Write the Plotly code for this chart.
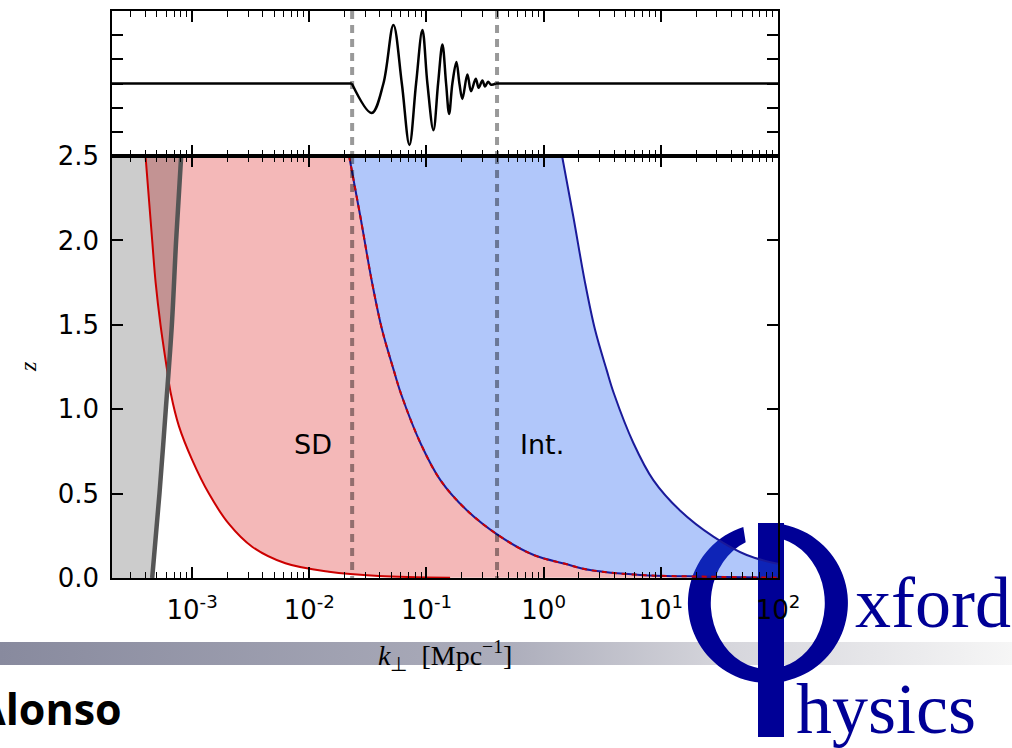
import base64
import math
import plotly.graph_objects as go

# ---------------- data ----------------
k_range = [2.07e-4, 100.0]          # k_perp axis limits [Mpc^-1]
z_range = [0.0, 2.5]
bao_k = [0.0232, 0.40]              # dashed BAO window

# single-dish (SD) lower limit curve (red)
sd_k = [4.0e-4, 4.56e-4, 4.88e-4, 5.37e-4, 6.12e-4, 6.59e-4, 7.71e-4, 1.0e-3,
        1.39e-3, 2.06e-3, 3.25e-3, 6.25e-3, 1.47e-2, 3.92e-2, 0.159]
sd_z = [2.5, 2.0, 1.75, 1.5, 1.23, 1.09, 0.90, 0.70,
        0.50, 0.32, 0.185, 0.087, 0.037, 0.012, 0.002]

# SD upper limit / interferometer lower limit (red-blue dashed)
mid_k = [0.02186, 0.02728, 0.03432, 0.0418, 0.0526, 0.0607, 0.0887, 0.1314,
         0.2219, 0.4277, 0.8234, 1.522, 2.49, 6.65, 24.6, 100.0]
mid_z = [2.5, 2.14, 1.75, 1.47, 1.23, 1.09, 0.80, 0.58,
         0.40, 0.245, 0.136, 0.084, 0.047, 0.018, 0.008, 0.002]

# interferometer upper limit (blue)
int_k = [1.436, 1.792, 2.255, 2.746, 3.455, 3.99, 5.83, 8.63, 14.58, 28.1, 54.1, 100.0]
int_z = [2.5, 2.14, 1.75, 1.47, 1.23, 1.09, 0.80, 0.58, 0.40, 0.245, 0.136, 0.084]

# grey excluded region boundary
gray_k = [4.56e-4, 5.26e-4, 5.96e-4, 6.71e-4, 7.30e-4, 8.06e-4]
gray_z = [0.0, 0.5, 1.0, 1.5, 2.0, 2.5]

# BAO wiggles (top panel)
wig_k = [0.02305, 0.0341, 0.0429, 0.0522, 0.0616, 0.0715, 0.0815, 0.0923, 0.1018,
         0.1146, 0.1256, 0.1367, 0.147, 0.156, 0.1663, 0.180, 0.191, 0.2024,
         0.2234, 0.240, 0.2634, 0.279, 0.2999, 0.316, 0.3355, 0.3558, 0.390]
wig_v = [0, -1.22, 0, 2.42, 0, -2.54, 0, 2.21, 0,
         -1.93, 0, 1.61, 0, -1.26, 0, 0.89, 0, -0.64,
         0.375, -0.32, 0.2, -0.18, 0.125, -0.125, 0.07, -0.05, 0]

xtick_vals = [1e-3, 1e-2, 1e-1, 1e0, 1e1, 1e2]
xtick_text = ["10<sup>-3</sup>", "10<sup>-2</sup>", "10<sup>-1</sup>",
              "10<sup>0</sup>", "10<sup>1</sup>", "10<sup>2</sup>"]
ytick_vals = [0.0, 0.5, 1.0, 1.5, 2.0, 2.5]
ytick_text = ["0.0", "0.5", "1.0", "1.5", "2.0", "2.5"]

label_text = ["SD", "Int."]
label_k = [0.0108, 0.96]
label_z = [0.79, 0.79]

# ---------------- layout geometry (pixels) ----------------
W, H = 1012, 748
def px(x):
    return x / W
def py(y):
    return 1 - y / H

X0, X1 = 112, 778
Y_BOT, Y_MID, Y_TOP = 578, 156, 11

RED = "#cc0000"
NAVY = "#1a1a9a"
LOGO = "rgb(0,0,150)"
VDASH = dict(color="rgba(0,0,0,0.4)", width=4, dash="8px,6px")

fig = go.Figure()
common = dict(showlegend=False, hoverinfo="skip", mode="lines")

# fills
fig.add_trace(go.Scatter(x=sd_k, y=sd_z, line=dict(width=0, shape="spline"), **common))
fig.add_trace(go.Scatter(x=mid_k, y=mid_z, fill="tonextx", fillcolor="rgba(220,20,20,0.3)",
                         line=dict(width=0, shape="spline"), **common))
fig.add_trace(go.Scatter(x=int_k, y=int_z, fill="tonextx", fillcolor="rgba(40,100,240,0.36)",
                         line=dict(width=0, shape="spline"), **common))
fig.add_trace(go.Scatter(x=[k_range[0]] + gray_k + [k_range[0]],
                         y=[z_range[0]] + gray_z + [z_range[1]],
                         fill="toself", fillcolor="rgba(0,0,0,0.2)",
                         line=dict(width=0), **common))
# lines
fig.add_trace(go.Scatter(x=sd_k, y=sd_z, line=dict(color=RED, width=2, shape="spline"), **common))
fig.add_trace(go.Scatter(x=mid_k, y=mid_z, line=dict(color=NAVY, width=2, shape="spline"), **common))
fig.add_trace(go.Scatter(x=mid_k, y=mid_z, line=dict(color=RED, width=2, shape="spline", dash="5px,5px"), **common))
fig.add_trace(go.Scatter(x=int_k, y=int_z, line=dict(color=NAVY, width=2, shape="spline"), **common))
fig.add_trace(go.Scatter(x=gray_k, y=gray_z, line=dict(color="#555555", width=4.5, shape="spline"), **common))
for k in bao_k:
    fig.add_trace(go.Scatter(x=[k, k], y=z_range[::-1], line=VDASH, **common))

# top panel
fig.add_trace(go.Scatter(x=[k_range[0], wig_k[0], None, wig_k[-1], k_range[1]], y=[0, 0, None, 0, 0],
                         xaxis="x2", yaxis="y2", line=dict(color="black", width=2.5), **common))
fig.add_trace(go.Scatter(x=wig_k, y=wig_v, xaxis="x2", yaxis="y2",
                         line=dict(color="black", width=2.5, shape="spline"), **common))
for k in bao_k:
    fig.add_trace(go.Scatter(x=[k, k], y=[3, -3], xaxis="x2", yaxis="y2", line=VDASH, **common))

axis_common = dict(showline=True, linecolor="black", linewidth=1.5, mirror="ticks",
                   ticks="inside", ticklen=11, tickwidth=1.5, tickcolor="black",
                   showgrid=False, zeroline=False, automargin=False)
xr = [math.log10(k_range[0]), math.log10(k_range[1])]
minor = dict(ticks="inside", ticklen=6, tickwidth=1.2, tickcolor="black", dtick="D1", showgrid=False)

fig.update_layout(
    width=W, height=H, margin=dict(l=0, r=0, t=0, b=0, autoexpand=False),
    paper_bgcolor="white", plot_bgcolor="rgba(0,0,0,0)",
    xaxis=dict(domain=[px(X0), px(X1)], anchor="y", type="log", range=xr,
               tickmode="array", tickvals=xtick_vals, ticktext=xtick_text,
               tickfont=dict(family="DejaVu Sans", size=26, color="black"),
               ticklabelstandoff=8, minor=minor, **axis_common),
    yaxis=dict(domain=[py(Y_BOT), py(Y_MID)], anchor="x", range=z_range,
               tickmode="array", tickvals=ytick_vals, ticktext=ytick_text,
               tickfont=dict(family="DejaVu Sans", size=26, color="black"),
               ticklabelstandoff=6, **axis_common),
    xaxis2=dict(domain=[px(X0), px(X1)], anchor="y2", type="log", range=xr,
                tickmode="array", tickvals=xtick_vals, showticklabels=False,
                minor=minor, **axis_common),
    yaxis2=dict(domain=[py(Y_MID), py(Y_TOP)], anchor="x2", range=[-3, 3],
                tickmode="array", tickvals=[-2, -1, 0, 1, 2], showticklabels=False,
                **axis_common),
)

# text labels inside the plot
for t, k, z in zip(label_text, label_k, label_z):
    fig.add_annotation(x=math.log10(k), y=z, xref="x", yref="y", text=t, showarrow=False,
                       font=dict(family="DejaVu Sans", size=27, color="black"))

# axis titles
fig.add_annotation(x=px(28), y=py(367), xref="paper", yref="paper", text="<i>z</i>",
                   textangle=-90, showarrow=False, xanchor="center", yanchor="middle",
                   font=dict(family="Liberation Serif", size=24, color="black"))
fig.add_annotation(x=px(445), y=py(655), xref="paper", yref="paper",
                   text="<i>k</i><sub>⊥</sub>  [Mpc<sup>−1</sup>]", showarrow=False,
                   xanchor="center", yanchor="middle",
                   font=dict(family="Liberation Serif", size=28, color="black"))

# ---------------- slide decorations ----------------
cx, cy, ro, rxi, ryi = 768, 603, 80, 57, 66
def pt(rx, ry, deg):
    a = math.radians(deg)
    return cx + rx * math.cos(a), cy - ry * math.sin(a)
o1 = pt(ro, ro, 97); o2 = pt(ro, ro, 108)
i1 = pt(rxi, ryi, 97); i2 = pt(rxi, ryi, 113)
ring = (f"M{o1[0]:.1f},{o1[1]:.1f} A{ro},{ro} 0 1 1 {o2[0]:.1f},{o2[1]:.1f} "
        f"L{i2[0]:.1f},{i2[1]:.1f} A{rxi},{ryi} 0 1 0 {i1[0]:.1f},{i1[1]:.1f} Z")
svg = f'''<svg xmlns="http://www.w3.org/2000/svg" width="{W}" height="{H}" viewBox="0 0 {W} {H}" preserveAspectRatio="none">
<defs><linearGradient id="g" x1="0" y1="0" x2="1" y2="0">
<stop offset="0" stop-color="rgb(136,138,158)"/>
<stop offset="0.5" stop-color="rgb(172,173,187)"/>
<stop offset="0.72" stop-color="rgb(214,214,220)"/>
<stop offset="1" stop-color="rgb(246,246,246)"/>
</linearGradient></defs>
<rect x="0" y="642" width="{W}" height="23" fill="url(#g)"/>
<path d="{ring}" fill="{LOGO}"/>
<rect x="758" y="523" width="26" height="214" fill="{LOGO}"/>
</svg>'''
src = "data:image/svg+xml;base64," + base64.b64encode(svg.encode()).decode()
fig.add_layout_image(dict(source=src, xref="paper", yref="paper", x=0, y=1, sizex=1, sizey=1,
                          xanchor="left", yanchor="top", sizing="stretch", layer="below"))

fig.add_annotation(x=px(853), y=py(603), xref="paper", yref="paper", text="xford",
                   xanchor="left", yanchor="middle", showarrow=False,
                   font=dict(family="Liberation Serif", size=72, color=LOGO))
fig.add_annotation(x=px(794), y=py(709), xref="paper", yref="paper", text="hysics",
                   xanchor="left", yanchor="middle", showarrow=False,
                   font=dict(family="Liberation Serif", size=72, color=LOGO))
fig.add_annotation(x=px(124), y=py(708), xref="paper", yref="paper", text="<b>Alonso</b>",
                   xanchor="right", yanchor="middle", showarrow=False,
                   font=dict(family="Open Sans", size=43, color="black"))

fig.write_html("out.html")
